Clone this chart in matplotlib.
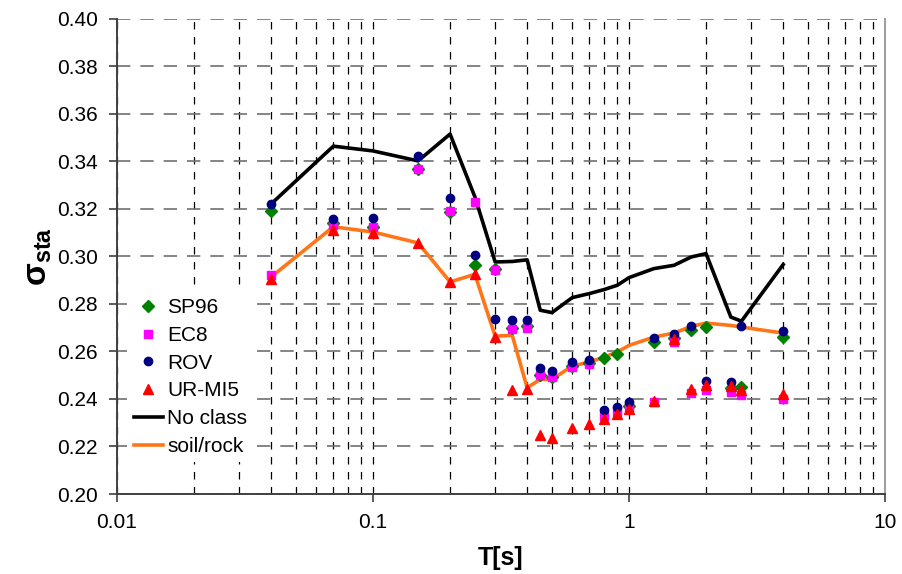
import numpy as np
import matplotlib
matplotlib.use('Agg')
import matplotlib.pyplot as plt
from matplotlib.ticker import LogLocator, FixedLocator, NullFormatter

plt.rcParams['font.family'] = ['Liberation Sans', 'DejaVu Sans']
plt.rcParams['mathtext.fontset'] = 'custom'
plt.rcParams['mathtext.rm'] = 'Liberation Sans'
plt.rcParams['mathtext.bf'] = 'Liberation Sans:bold'

# periods (s)
periods = [0.04, 0.07, 0.1, 0.15, 0.2, 0.25, 0.3, 0.35, 0.4, 0.45, 0.5, 0.6,
           0.7, 0.8, 0.9, 1.0, 1.25, 1.5, 1.75, 2.0, 2.5, 2.75, 4.0]

sp96 = [0.3190, 0.3140, 0.3125, 0.3365, 0.3185, 0.2962, 0.2948, 0.2700, 0.2705,
        0.2500, 0.2492, 0.2538, 0.2553, 0.2573, 0.2590, 0.2370, 0.2639, 0.2655,
        0.2688, 0.2702, 0.2447, 0.2450, 0.2660]
ec8 = [0.2920, 0.3131, 0.3121, 0.3369, 0.3191, 0.3229, 0.2944, 0.2696, 0.2700,
       0.2499, 0.2492, 0.2534, 0.2545, 0.2330, 0.2345, 0.2365, 0.2385, 0.2639,
       0.2426, 0.2439, 0.2429, 0.2418, 0.2401]
rov = [0.3219, 0.3155, 0.3159, 0.3422, 0.3243, 0.3004, 0.2735, 0.2731, 0.2733,
       0.2530, 0.2516, 0.2555, 0.2565, 0.2352, 0.2365, 0.2387, 0.2657, 0.2674,
       0.2707, 0.2475, 0.2471, 0.2705, 0.2686]
urmi5 = [0.2906, 0.3109, 0.3096, 0.3056, 0.2892, 0.2924, 0.2660, 0.2439, 0.2443,
         0.2249, 0.2237, 0.2279, 0.2296, 0.2315, 0.2335, 0.2359, 0.2391, 0.2652,
         0.2443, 0.2457, 0.2453, 0.2439, 0.2419]
no_class = [0.3220, 0.3463, 0.3443, 0.3401, 0.3514, 0.3250, 0.2976, 0.2978, 0.2985,
            0.2773, 0.2763, 0.2826, 0.2843, 0.2860, 0.2878, 0.2910, 0.2948, 0.2962,
            0.2997, 0.3011, 0.2744, 0.2727, 0.2965]
soil_rock = [0.2913, 0.3124, 0.3102, 0.3056, 0.2892, 0.2924, 0.2664, 0.2667, 0.2447,
             0.2482, 0.2482, 0.2538, 0.2555, 0.2576, 0.2597, 0.2625, 0.2660, 0.2677,
             0.2705, 0.2719, 0.2709, 0.2702, 0.2677]

y_ticks = [0.20, 0.22, 0.24, 0.26, 0.28, 0.30, 0.32, 0.34, 0.36, 0.38, 0.40]

fig = plt.figure(figsize=(9.03, 5.74), dpi=100)
ax = fig.add_axes([117 / 903, 1 - 494 / 574, (885 - 117) / 903, (494 - 18.5) / 574])

# lines first, markers on top
l_nc, = ax.plot(periods, no_class, color='black', lw=2.6, zorder=3, label='No class')
l_sr, = ax.plot(periods, soil_rock, color='#ff7518', lw=2.6, zorder=3, label='soil/rock')
h_sp, = ax.plot(periods, sp96, ls='none', marker='D', ms=6, color='#008000', zorder=4, label='SP96')
h_ec, = ax.plot(periods, ec8, ls='none', marker='s', ms=5.5, color='#ff00ff', zorder=5, label='EC8')
h_rv, = ax.plot(periods, rov, ls='none', marker='o', ms=6, color='#000080', zorder=6, label='ROV')
h_ur, = ax.plot(periods, urmi5, ls='none', marker='^', ms=6.5, color='#ff0000', zorder=7, label='UR-MI5')

ax.set_xscale('log')
ax.set_xlim(0.01, 10)
ax.set_ylim(0.20, 0.40)
ax.set_yticks(y_ticks)
ax.set_yticklabels(['%.2f' % v for v in y_ticks])
ax.xaxis.set_major_locator(FixedLocator([0.01, 0.1, 1, 10]))
ax.set_xticklabels(['0.01', '0.1', '1', '10'])
ax.xaxis.set_minor_locator(LogLocator(base=10, subs=np.arange(2, 10)))
ax.xaxis.set_minor_formatter(NullFormatter())

# grid
ax.grid(axis='x', which='both', color='black', ls=(0, (6, 6)), lw=0.9, zorder=1)
ax.grid(axis='y', which='major', color='#707070', ls=(0, (8, 6)), lw=1.2, zorder=1)

ax.tick_params(axis='both', which='major', direction='out', length=6, labelsize=15,
               color='#404040', width=1.2)
ax.tick_params(axis='x', which='minor', length=0)
ax.tick_params(axis='x', pad=8)
ax.tick_params(axis='y', pad=8)

for side in ['left', 'bottom']:
    ax.spines[side].set_color('#404040')
    ax.spines[side].set_linewidth(1.4)
ax.spines['right'].set_color('#a0a0a0')
ax.spines['right'].set_linewidth(1.5)
ax.spines['top'].set_visible(False)

ax.set_xlabel('T[s]', fontsize=18, fontweight='bold', labelpad=10)
ax.set_ylabel(r'$\mathbf{\sigma_{sta}}$', fontsize=24, labelpad=2)

leg = ax.legend(handles=[h_sp, h_ec, h_rv, h_ur, l_nc, l_sr], loc='lower left',
                bbox_to_anchor=(0.0, 0.045), frameon=True, fancybox=False,
                edgecolor='none', facecolor='white', framealpha=1, fontsize=15,
                handlelength=1.4, handletextpad=0.2, labelspacing=0.42,
                borderpad=0.3)
leg.set_zorder(10)

fig.savefig('out.png', dpi=100)
